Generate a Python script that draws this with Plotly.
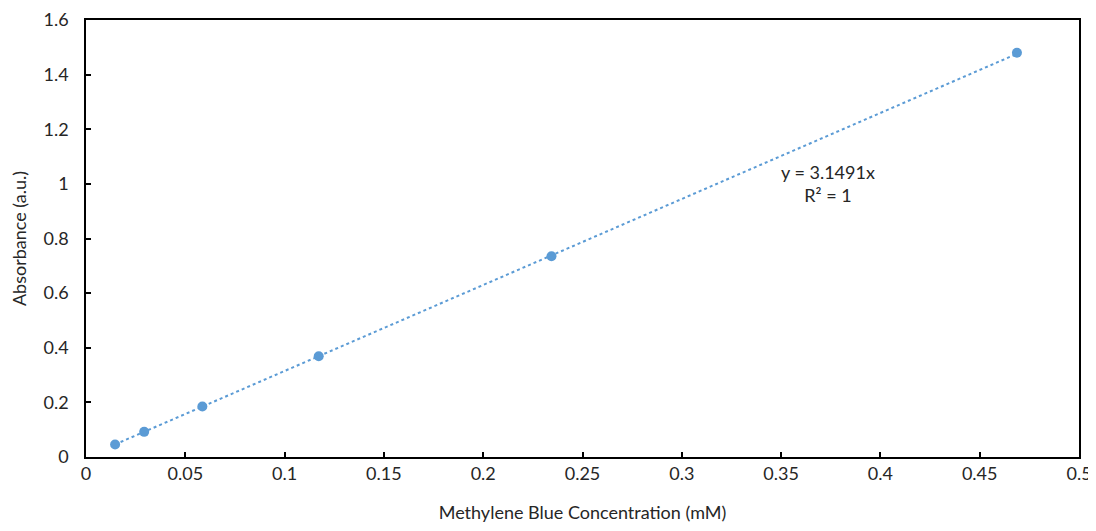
import plotly.graph_objects as go

concentration = [0.0146484, 0.0292969, 0.0585938, 0.1171875, 0.234375, 0.46875]
absorbance = [0.046, 0.092, 0.185, 0.369, 0.735, 1.48]
slope = 3.1491
trend_x = [concentration[0], concentration[-1]]
trend_y = [slope * v for v in trend_x]

blue = "#5B9BD5"
font = "Lato, Calibri, Carlito, sans-serif"
txt = "#262626"

fig = go.Figure()
fig.add_trace(go.Scatter(x=trend_x, y=trend_y, mode="lines",
                         line=dict(color=blue, width=2, dash="dot"),
                         hoverinfo="skip", showlegend=False))
fig.add_trace(go.Scatter(x=concentration, y=absorbance, mode="markers",
                         marker=dict(color=blue, size=10),
                         showlegend=False))

fig.add_annotation(x=0.3736, y=1.0, text="y = 3.1491x<br>R² = 1",
                   showarrow=False, font=dict(family=font, size=18, color=txt),
                   align="center")

axis_common = dict(showline=True, linecolor="black", linewidth=1.5, mirror=True,
                   ticks="inside", ticklen=5, tickcolor="black", tickwidth=1.5,
                   showgrid=False, zeroline=False, automargin=False,
                   ticklabeloverflow="allow",
                   tickfont=dict(family=font, size=18, color=txt))

fig.update_xaxes(range=[0, 0.5], dtick=0.05, tick0=0,
                 title=dict(text="Methylene Blue Concentration (mM)",
                            font=dict(family=font, size=18, color=txt), standoff=30),
                 ticklabelstandoff=0, **axis_common)
fig.update_yaxes(range=[0, 1.6], dtick=0.2, tick0=0,
                 title=dict(text="Absorbance (a.u.)",
                            font=dict(family=font, size=18, color=txt), standoff=14),
                 ticklabelstandoff=12, **axis_common)

fig.update_layout(width=1086, height=515,
                  margin=dict(l=78, r=15, t=12, b=66),
                  plot_bgcolor="white", paper_bgcolor="white")

fig.write_html("out.html")
